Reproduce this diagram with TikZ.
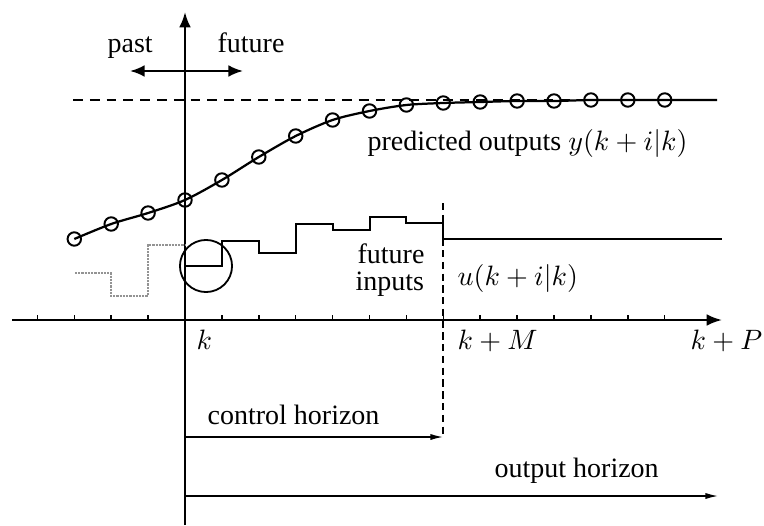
\documentclass[tikz,border=0pt]{standalone}
\usepackage[no-math]{fontspec}
\setmainfont{Liberation Serif}
\usetikzlibrary{arrows.meta}
\begin{document}
\begin{tikzpicture}[x=0.357pt,y=-0.357pt,
  axisline/.style={line width=0.8pt,-{Latex[length=5.5pt,width=4.2pt]}},
  pfarrow/.style={line width=0.8pt,{Latex[length=5.2pt,width=4.2pt]}-{Latex[length=5.2pt,width=4.2pt]}},
  horizon/.style={line width=0.5pt,-{Latex[length=4.5pt,width=2.2pt]}},
  tickmark/.style={line width=0.55pt},
  setpoint/.style={line width=0.75pt,dash pattern=on 3.5pt off 2.5pt},
  curveline/.style={line width=0.8pt},
  outc/.style={circle,draw,line width=0.7pt,minimum size=4.8pt,inner sep=0pt},
  pastin/.style={line width=0.55pt,gray!85,dash pattern=on 0.8pt off 0.35pt},
  futin/.style={line width=0.7pt},
  focus/.style={circle,draw,line width=0.65pt,minimum size=18.6pt,inner sep=0pt},
  lbl/.style={inner sep=0pt,anchor=base west,font=\fontsize{10}{12}\selectfont},
  mhdash/.style={line width=0.55pt,dash pattern=on 2.6pt off 1.6pt}
]
\useasboundingbox (0,0) rectangle (764,525);

% axes
\coordinate (vbot) at (185,525);
\coordinate (vtop) at (185,12);
\coordinate (hleft) at (12,320);
\coordinate (hright) at (722,320);
\draw[axisline] (vbot) -- (vtop);
\draw[axisline] (hleft) -- (hright);

% ticks
\foreach \n in {-4,...,13}{
  \draw[tickmark] ({185+36.9*\n},320) -- ({185+36.9*\n},315);
}

% past / future
\coordinate (pl) at (130,71);
\coordinate (pr) at (243,71);
\draw[pfarrow] (pl) -- (pr);
\node[lbl] (past) at (107,53) {past};
\node[lbl] (future) at (217,53) {future};

% set point
\coordinate (sp1) at (73,100);
\coordinate (sp2) at (717,100);
\draw[setpoint] (sp1) -- (sp2);

% predicted outputs
\foreach \n/\yy [count=\i] in {-3/239,-2/224,-1/213,0/200,1/180,2/157,3/136,4/120,5/111,6/105,7/103,8/102,9/101,10/101,11/100,12/100,13/100}{
  \coordinate (c\i) at ({185+36.9*\n},\yy);
}
\coordinate (c18) at (717,100);
\draw[curveline] plot[smooth,tension=0.5] coordinates {(c1) (c2) (c3) (c4) (c5) (c6) (c7) (c8) (c9) (c10) (c11) (c12) (c13) (c14) (c15) (c16) (c17) (c18)};
\foreach \i in {1,...,17}{
  \node[outc] (o\i) at (c\i) {};
}
\node[lbl] (predlbl) at (367,151) {predicted outputs $y(k+i|k)$};

% past inputs
\coordinate (u1) at (75,273);
\coordinate (u2) at (111,273);
\coordinate (u3) at (111,296);
\coordinate (u4) at (148,296);
\coordinate (u5) at (148,245);
\coordinate (u6) at (185,245);
\draw[pastin] (u1) -- (u2) -- (u3) -- (u4) -- (u5) -- (u6);

% future inputs
\draw[futin] (185,266) -- (222,266) -- (222,241) -- (259,241) -- (259,253) -- (296,253) -- (296,224) -- (333,224) -- (333,230) -- (370,230) -- (370,217) -- (406,217) -- (406,223) -- (443,223) -- (443,239) -- (722,239);

\node[focus] (foc) at (206,266) {};

% labels
\node[lbl] (fut1) at (357,263) {future};
\node[lbl] (fut2) at (355,290) {inputs};
\node[lbl] (ulbl) at (457,285) {$u(k+i|k)$};

\node[lbl] (kl) at (196,349) {$k$};
\node[lbl] (kM) at (457,349) {$k+M$};
\node[lbl] (kP) at (690,349) {$k+P$};

% horizons
\coordinate (mtop) at (443,203);
\coordinate (ch1) at (185,437);
\coordinate (ch2) at (443,437);
\draw[mhdash] (mtop) -- (ch2);
\draw[horizon] (ch1) -- (ch2);
\node[lbl] (chl) at (207,424) {control horizon};
\coordinate (oh1) at (185,496);
\coordinate (oh2) at (718,496);
\draw[horizon] (oh1) -- (oh2);
\node[lbl] (ohl) at (494,477) {output horizon};
\end{tikzpicture}
\end{document}
